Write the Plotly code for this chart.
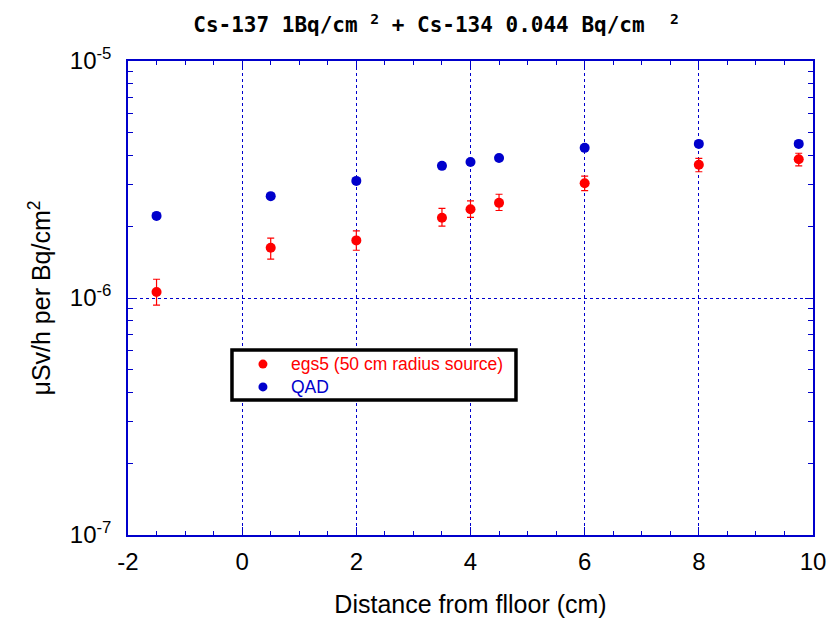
import plotly.graph_objects as go

# Distance from floor (cm)
dist_egs5 = [-1.5, 0.5, 2.0, 3.5, 4.0, 4.5, 6.0, 8.0, 9.75]
dist_qad = [-1.5, 0.5, 2.0, 3.5, 4.0, 4.5, 6.0, 8.0, 9.75]

# Dose rate per unit surface activity (uSv/h per Bq/cm^2)
egs5_val = [1.06e-6, 1.63e-6, 1.75e-6, 2.18e-6, 2.37e-6, 2.52e-6, 3.05e-6, 3.65e-6, 3.85e-6]
egs5_hi = [1.20e-6, 1.79e-6, 1.92e-6, 2.39e-6, 2.57e-6, 2.74e-6, 3.27e-6, 3.88e-6, 4.08e-6]
egs5_lo = [0.934e-6, 1.46e-6, 1.59e-6, 2.01e-6, 2.19e-6, 2.34e-6, 2.84e-6, 3.41e-6, 3.61e-6]
qad_val = [2.22e-6, 2.69e-6, 3.12e-6, 3.61e-6, 3.75e-6, 3.90e-6, 4.30e-6, 4.47e-6, 4.47e-6]

series_names = ["egs5 (50 cm radius source)", "QAD"]

x_ticks = [-2, 0, 2, 4, 6, 8, 10]
y_ticks = [1e-7, 1e-6, 1e-5]
y_ticktext = ["10<sup>-7</sup>", "10<sup>-6</sup>", "10<sup>-5</sup>"]

RED = "#FF0000"
BLUE = "#0000CC"
FRAME = "#0000CC"
SANS = "Liberation Sans, Arial, sans-serif"

err_plus = [h - v for h, v in zip(egs5_hi, egs5_val)]
err_minus = [v - l for v, l in zip(egs5_val, egs5_lo)]

fig = go.Figure()
fig.add_trace(go.Scatter(
    x=dist_egs5, y=egs5_val, mode="markers", name=series_names[0],
    marker=dict(color=RED, size=10, symbol="circle"),
    error_y=dict(type="data", symmetric=False, array=err_plus, arrayminus=err_minus,
                 color=RED, thickness=1.2, width=3.5),
))
fig.add_trace(go.Scatter(
    x=dist_qad, y=qad_val, mode="markers", name=series_names[1],
    marker=dict(color=BLUE, size=10, symbol="circle"),
))

# Boxed key inside the plot area (white box hides the grid behind it)
fig.add_shape(type="rect", xref="paper", yref="paper",
              x0=0.1518, x1=0.5664, y0=0.2848, y1=0.3903,
              line=dict(color="black", width=3.5), fillcolor="white", layer="above")

key_colors = [RED, BLUE]
key_dot_y = [0.3605, 0.3125]
for ky, col in zip(key_dot_y, key_colors):
    fig.add_shape(type="circle", xref="paper", yref="paper",
                  xsizemode="pixel", ysizemode="pixel",
                  xanchor=0.197, yanchor=ky, x0=-4.5, x1=4.5, y0=-4.5, y1=4.5,
                  line=dict(color=col, width=0), fillcolor=col, layer="above")

key_text = "<br>".join(
    f"<span style='color:{c}'>{n}</span>" for n, c in zip(series_names, key_colors)
)
fig.add_annotation(xref="paper", yref="paper", x=0.2365, y=0.3365,
                   xanchor="left", yanchor="middle", align="left", showarrow=False,
                   borderpad=0, text=key_text,
                   font=dict(family=SANS, size=17.5, color="black"))

axis_font = dict(family=SANS, size=24, color="black")
title_font = dict(family=SANS, size=25, color="black")

fig.update_layout(
    width=828, height=618,
    margin=dict(l=128, r=15, t=61, b=83, autoexpand=False),
    paper_bgcolor="white", plot_bgcolor="white",
    title=dict(
        text="Cs-137 1Bq/cm <sup>2</sup> + Cs-134 0.044 Bq/cm  <sup>2</sup>",
        x=436 / 828, xanchor="center", xref="container",
        y=1 - 25 / 618, yanchor="middle", yref="container",
        font=dict(family="DejaVu Sans Mono, monospace", size=21, color="black", weight="bold"),
    ),
    showlegend=False,
    xaxis=dict(
        range=[-2, 10], tickvals=x_ticks, ticktext=[str(v) for v in x_ticks],
        title=dict(text="Distance from flloor (cm)", font=title_font, standoff=22),
        tickfont=axis_font, automargin=False, ticklabelstandoff=4,
        showline=True, linecolor=FRAME, linewidth=1.5, mirror="ticks",
        ticks="inside", ticklen=8, tickcolor=FRAME, tickwidth=1,
        minor=dict(dtick=0.5, ticks="inside", ticklen=4, tickcolor=FRAME, showgrid=False),
        showgrid=True, gridcolor=BLUE, gridwidth=1, griddash="3px,3px",
        zeroline=False,
    ),
    yaxis=dict(
        type="log", range=[-7, -5], tickvals=y_ticks, ticktext=y_ticktext,
        title=dict(text="μSv/h per Bq/cm<sup>2</sup>", font=title_font, standoff=12),
        tickfont=axis_font, automargin=False, ticklabelstandoff=10,
        showline=True, linecolor=FRAME, linewidth=1.5, mirror="ticks",
        ticks="inside", ticklen=8, tickcolor=FRAME, tickwidth=1,
        minor=dict(dtick="D1", ticks="inside", ticklen=5, tickcolor=FRAME, showgrid=False),
        showgrid=True, gridcolor=BLUE, gridwidth=1, griddash="3px,3px",
        zeroline=False,
    ),
)

fig.write_html("out.html")
